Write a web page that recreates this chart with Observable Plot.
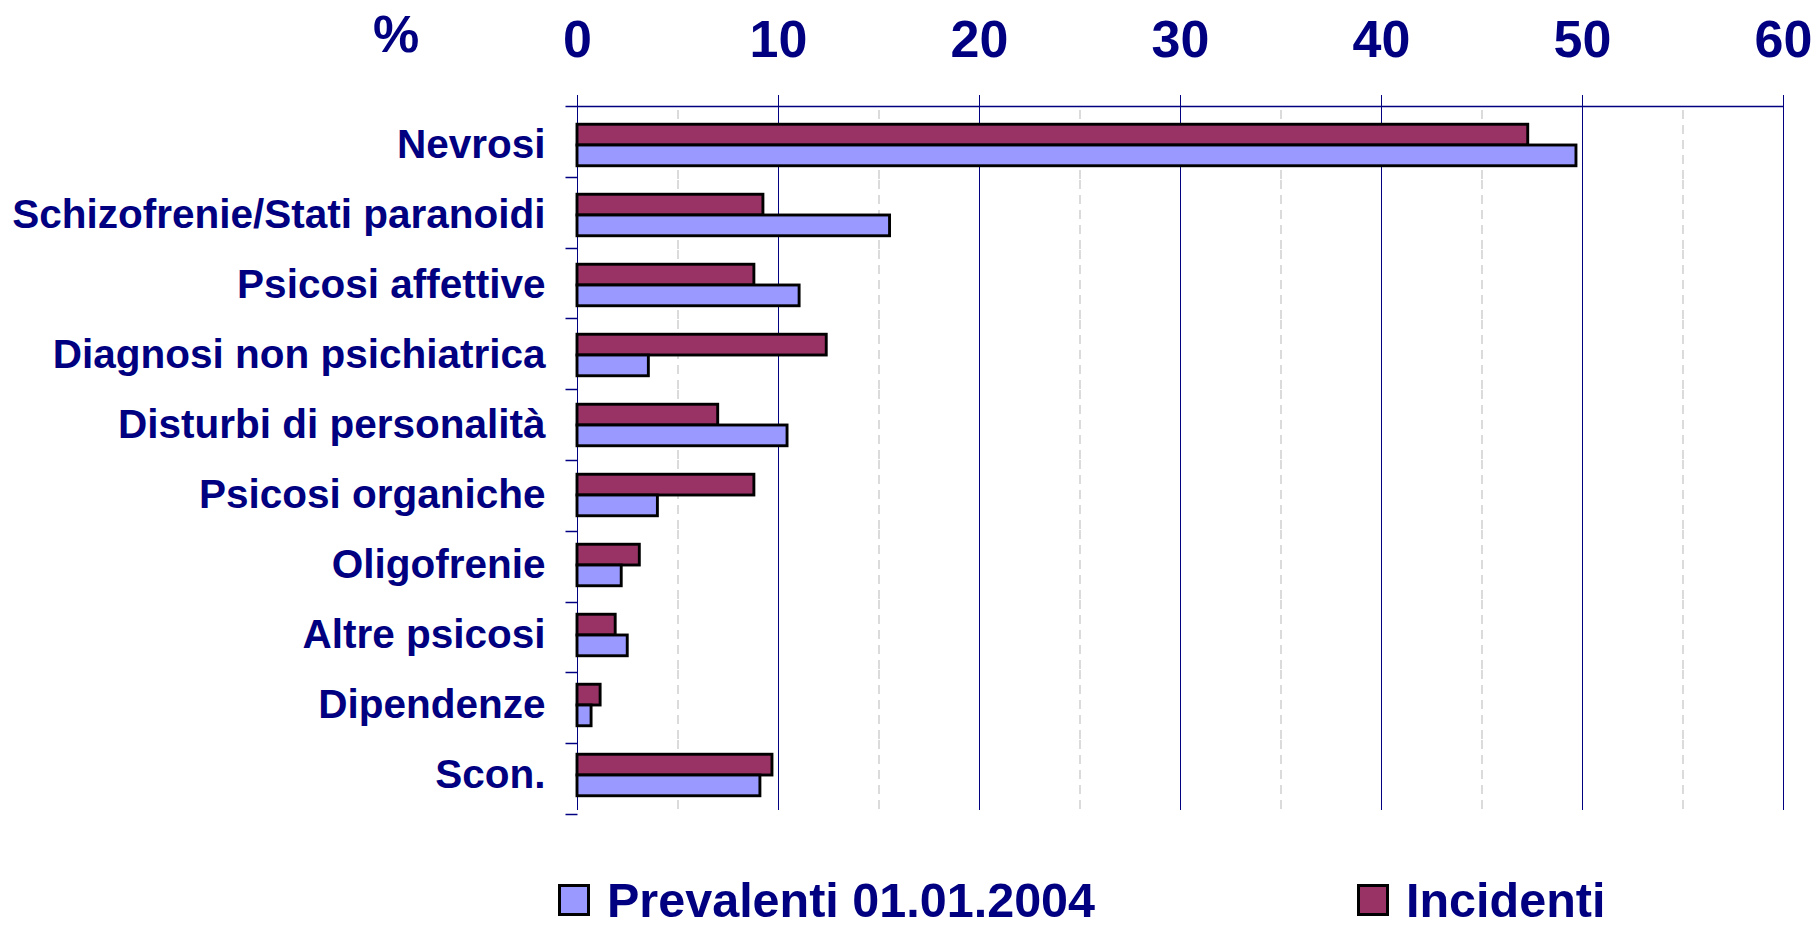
<!DOCTYPE html>
<html>
<head>
<meta charset="utf-8">
<script src="https://cdn.jsdelivr.net/npm/d3@7"></script>
<script src="https://cdn.jsdelivr.net/npm/@observablehq/plot@0.6"></script>
<style>
  html, body { margin: 0; padding: 0; background: white; overflow: hidden; width: 1816px; height: 928px; }
  #chart { position: absolute; left: 0; top: 0; }
  g[aria-label^="x-axis"] text { font-size: 52px; }
  .legend { position: absolute; left: 0; top: 876px; width: 1816px; height: 48px;
            font-family: "Liberation Sans", Arial, sans-serif; font-weight: bold; color: #000080; }
  .legend .sw { position: absolute; top: 8px; width: 26px; height: 26px; border: 3px solid #000; box-sizing: content-box; }
  .legend .lb { position: absolute; top: 0; height: 48px; font-size: 48.5px; line-height: 48px; white-space: nowrap; }
</style>
</head>
<body>
<div id="chart"></div>
<script>
const categories = ["Nevrosi", "Schizofrenie/Stati paranoidi", "Psicosi affettive", "Diagnosi non psichiatrica",
  "Disturbi di personalità", "Psicosi organiche", "Oligofrenie", "Altre psicosi", "Dipendenze", "Scon."];
const incidenti  = [47.3, 9.25, 8.8, 12.4, 7.0, 8.8, 3.1, 1.9, 1.15, 9.7];
const prevalenti = [49.7, 15.55, 11.05, 3.55, 10.45, 4.0, 2.2, 2.5, 0.7, 9.1];
const seriesNames = ["Prevalenti 01.01.2004", "Incidenti"];
const seriesColors = ["#9999FF", "#993366"];
const majorTicks = [0, 10, 20, 30, 40, 50, 60];
const minorTicks = [5, 15, 25, 35, 45, 55];
const unitLabel = "%";

const rows = [];
categories.forEach((c, i) => {
  rows.push({category: c, series: seriesNames[1], value: incidenti[i]});
  rows.push({category: c, series: seriesNames[0], value: prevalenti[i]});
});

const plot = Plot.plot({
  width: 1816,
  height: 870,
  marginLeft: 577,
  marginRight: 33,
  marginTop: 106,
  marginBottom: 56,
  style: {fontFamily: "'Liberation Sans', Arial, sans-serif", fontSize: "40.5px", fontWeight: "bold",
          color: "#000080", background: "white", overflow: "visible"},
  facet: {data: rows, y: "category"},
  fy: {domain: categories, padding: 0, label: null, axis: "left", tickSize: 0, tickPadding: 32},
  x: {domain: [0, 60], ticks: majorTicks, axis: "top", tickSize: 16, tickPadding: 38, label: null},
  y: {domain: [seriesNames[1], seriesNames[0]], paddingInner: 0, paddingOuter: 0.686, round: false, axis: null},
  color: {domain: seriesNames, range: seriesColors},
  marks: [
    Plot.ruleX(minorTicks, {stroke: "#c4c4c4", strokeWidth: 1.2, strokeDasharray: "9,6"}),
    Plot.ruleX(majorTicks, {stroke: "#000080", strokeWidth: 1}),
    Plot.barX(rows, {x: "value", y: "series", fill: "series", stroke: "#000", strokeWidth: 2.9, insetTop: 0, insetBottom: 0})
  ]
});
document.getElementById("chart").appendChild(plot);

// boundary ticks on the category axis and top border line, from the library's scales
try {
  const svg = plot.tagName.toLowerCase() === "svg" ? plot : plot.querySelector("svg");
  const fyS = plot.scale("fy");
  const band = d3.scaleBand().domain(fyS.domain).range(fyS.range)
    .paddingInner(fyS.paddingInner || 0).paddingOuter(fyS.paddingOuter || 0).align(fyS.align ?? 0.5);
  const xS = plot.scale("x");
  const xl = d3.scaleLinear().domain(xS.domain).range(xS.range);
  const last = fyS.domain[fyS.domain.length - 1];
  const bounds = fyS.domain.map(d => band(d)).concat([band(last) + band.bandwidth()]);
  const g = d3.select(svg).append("g").attr("stroke", "#000080").attr("stroke-width", 1.5);
  const x0 = Math.round(xl(0)) + 0.5;
  bounds.forEach(b => {
    g.append("line").attr("x1", x0 - 12).attr("x2", x0).attr("y1", Math.round(b) + 0.5).attr("y2", Math.round(b) + 0.5);
  });
  g.append("line").attr("x1", x0).attr("x2", Math.round(xl(60)) + 0.5)
    .attr("y1", Math.round(bounds[0]) + 0.5).attr("y2", Math.round(bounds[0]) + 0.5);
  d3.select(svg).append("text").attr("x", 373).attr("y", 52).attr("font-size", 52)
    .attr("text-anchor", "start").attr("fill", "#000080").text(unitLabel);
} catch (e) { console.error(e); }

// legend
const legend = document.createElement("div");
legend.className = "legend";
const legendX = [558, 1357];
seriesNames.forEach((name, i) => {
  const sw = document.createElement("div");
  sw.className = "sw";
  sw.style.left = legendX[i] + "px";
  sw.style.background = seriesColors[i];
  const lb = document.createElement("div");
  lb.className = "lb";
  lb.style.left = (legendX[i] + 49) + "px";
  lb.textContent = name;
  legend.appendChild(sw);
  legend.appendChild(lb);
});
document.body.appendChild(legend);
</script>
</body>
</html>
